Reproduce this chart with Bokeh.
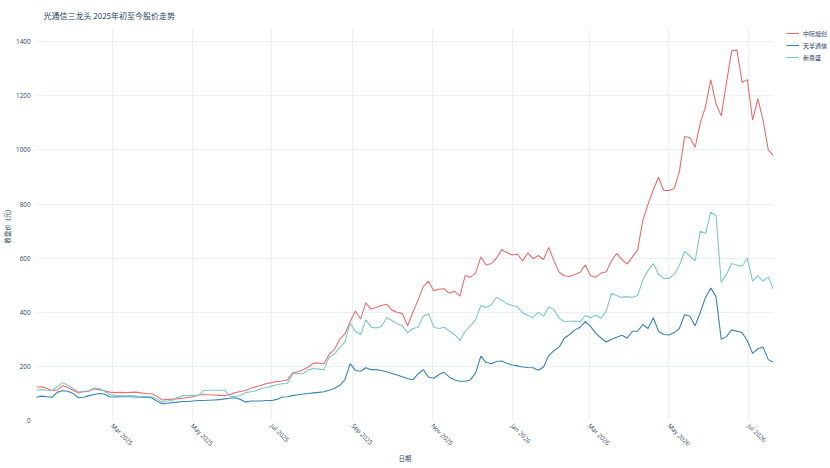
import math
import pandas as pd
from bokeh.plotting import figure
from bokeh.models import (Range1d, Legend, LegendItem, DatetimeTickFormatter,
                          MonthsTicker, SingleIntervalTicker, ColumnDataSource)
from bokeh.embed import file_html
from bokeh.resources import INLINE

# ---------------- data (closing prices, CNY; sampled every 4 calendar days) -------------
start_date = "2025-01-02"
step_days = 4

zhongji = [123, 125, 118, 111, 113, 129, 122, 112, 102, 106,
           108, 117, 114, 110, 105, 103, 104, 103, 104, 105,
           102, 100, 99, 90, 76, 78, 79, 81, 82, 85,
           88, 94, 95, 95, 94, 93, 92, 96, 103, 107,
           111, 119, 125, 130, 137, 140, 144, 146, 150, 175,
           180, 188, 198, 212, 212, 210, 245, 262, 300, 320,
           365, 405, 375, 435, 412, 418, 425, 430, 408, 400,
           395, 350, 400, 445, 495, 515, 480, 485, 487, 470,
           478, 460, 535, 530, 545, 605, 575, 580, 600, 632,
           620, 612, 615, 590, 620, 598, 610, 595, 640, 590,
           548, 535, 532, 540, 548, 575, 535, 530, 545, 550,
           590, 618, 595, 578, 605, 630, 740, 800, 852, 899,
           850, 850, 858, 920, 1050, 1045, 1010, 1100, 1160, 1260,
           1170, 1126, 1249, 1366, 1370, 1250, 1260, 1110, 1190, 1110,
           1000, 979]

tianfu = [86, 90, 88, 86, 105, 110, 108, 100, 84, 86,
          92, 96, 100, 98, 88, 87, 88, 88, 88, 87,
          86, 85, 84, 72, 62, 64, 66, 68, 70, 70,
          72, 74, 74, 75, 76, 77, 80, 82, 84, 78,
          68, 72, 72, 72, 74, 74, 78, 87, 88, 92,
          95, 98, 100, 102, 104, 106, 112, 118, 130, 150,
          210, 185, 182, 195, 188, 188, 185, 180, 174, 168,
          162, 155, 150, 172, 188, 160, 156, 170, 178, 160,
          150, 145, 145, 150, 175, 238, 215, 210, 218, 220,
          212, 205, 202, 198, 196, 195, 186, 198, 240, 258,
          272, 305, 318, 335, 345, 365, 348, 322, 305, 290,
          300, 308, 315, 304, 330, 330, 355, 340, 380, 330,
          318, 316, 325, 340, 392, 385, 350, 400, 455, 490,
          458, 300, 310, 335, 330, 325, 295, 248, 265, 272,
          225, 215]

xinyisheng = [113, 114, 112, 111, 125, 140, 130, 118, 105, 108,
              110, 120, 118, 108, 96, 92, 92, 91, 92, 90,
              88, 89, 88, 80, 68, 72, 75, 85, 92, 92,
              93, 92, 111, 112, 112, 112, 113, 90, 88, 93,
              103, 106, 110, 118, 122, 127, 132, 136, 137, 172,
              174, 173, 188, 192, 190, 188, 235, 245, 270, 290,
              360, 330, 318, 372, 345, 342, 348, 380, 370, 358,
              350, 325, 340, 345, 385, 395, 345, 340, 345, 330,
              318, 295, 330, 350, 372, 425, 418, 428, 455, 445,
              432, 425, 420, 398, 388, 380, 400, 385, 420, 410,
              378, 365, 367, 368, 366, 388, 380, 390, 378, 405,
              470, 462, 455, 458, 455, 462, 519, 555, 580, 540,
              525, 525, 540, 574, 625, 608, 590, 700, 691, 770,
              758, 510, 540, 580, 575, 570, 600, 515, 535, 515,
              530, 485]

series_names = ["中际旭创", "天孚通信", "新易盛"]
series_colors = ["#e96d6f", "#3a85b5", "#7ccac6"]

title_text = "光通信三龙头 2025年初至今股价走势"
x_title = "日期"
y_title = "收盘价（元）"
y_max = 1449

dates = pd.date_range(start_date, periods=len(zhongji), freq=f"{step_days}D")
source = ColumnDataSource(dict(date=dates, zj=zhongji, tf=tianfu, xy=xinyisheng))

CJK = "Noto Sans CJK SC"
TXT = "#2a3f5f"
GRID = "#ebf0f8"

p = figure(frame_width=737, frame_height=392, x_axis_type="datetime",
           output_backend="svg", toolbar_location=None,
           x_range=Range1d(dates[0], dates[-1]), y_range=Range1d(0, y_max),
           min_border_left=10, min_border_right=55, min_border_top=28,
           min_border_bottom=40, background_fill_color="white",
           border_fill_color="white")

p.title.text = title_text
p.title.text_font = CJK
p.title.text_font_size = "8px"
p.title.text_font_style = "normal"
p.title.text_color = TXT
p.title.offset = 7
p.title.standoff = 12
p.title.vertical_align = "top"

renderers = []
for col, color in zip(["zj", "tf", "xy"], series_colors):
    r = p.line("date", col, source=source, line_color=color, line_width=1.1)
    renderers.append(r)

p.outline_line_color = None

xa = p.xaxis[0]
xa.ticker = MonthsTicker(months=[0, 2, 4, 6, 8, 10])
xa.formatter = DatetimeTickFormatter(months="%b %Y", days="%b %Y", years="%b %Y")
xa.major_label_orientation = -math.pi / 4
xa.axis_line_color = None
xa.major_tick_line_color = None
xa.minor_tick_line_color = None
xa.major_tick_out = 0
xa.major_label_text_font = "Open Sans"
xa.major_label_text_font_size = "6.3px"
xa.major_label_text_color = TXT
xa.axis_label = x_title
xa.axis_label_text_font = CJK
xa.axis_label_text_font_size = "6.3px"
xa.axis_label_text_font_style = "normal"
xa.axis_label_text_color = TXT
xa.major_label_standoff = 4
xa.axis_label_standoff = 0

ya = p.yaxis[0]
ya.ticker = SingleIntervalTicker(interval=200)
ya.axis_line_color = None
ya.major_tick_line_color = None
ya.minor_tick_line_color = None
ya.major_tick_out = 0
ya.major_tick_in = 0
ya.major_label_text_font = "Open Sans"
ya.major_label_text_font_size = "6.3px"
ya.major_label_text_color = TXT
ya.axis_label = y_title
ya.axis_label_text_font = CJK
ya.axis_label_text_font_size = "6.3px"
ya.axis_label_text_font_style = "normal"
ya.axis_label_text_color = TXT
ya.major_label_standoff = 2
ya.axis_label_standoff = 1

p.xgrid.grid_line_color = GRID
p.ygrid.grid_line_color = GRID
p.xgrid.ticker = xa.ticker
p.ygrid.ticker = ya.ticker

legend = Legend(items=[LegendItem(label=n, renderers=[r]) for n, r in zip(series_names, renderers)],
                location=(13, 358))
legend.label_text_font = CJK
legend.label_text_font_size = "6px"
legend.label_text_color = TXT
legend.glyph_width = 13
legend.glyph_height = 10
legend.label_standoff = 4
legend.label_height = 10
legend.spacing = 2
legend.padding = 2
legend.margin = 0
legend.border_line_color = None
legend.background_fill_alpha = 0
p.add_layout(legend, "right")

open("out.html", "w").write(file_html(p, INLINE))
